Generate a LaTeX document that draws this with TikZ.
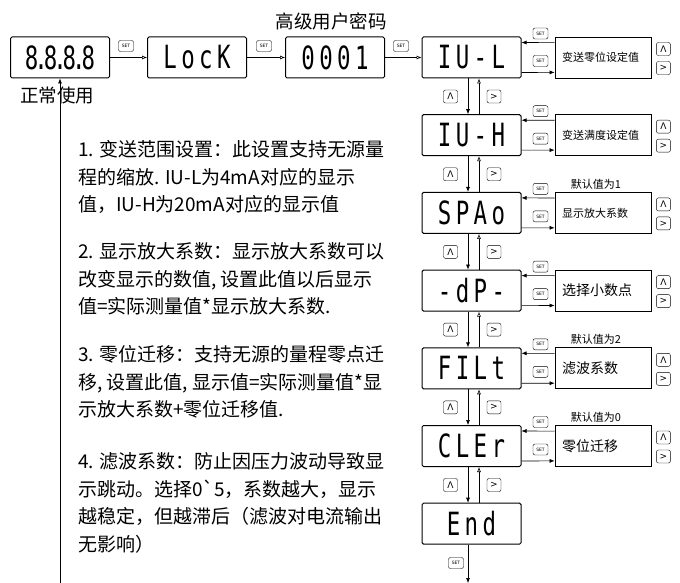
\documentclass[tikz,border=0pt]{standalone}
\usepackage{fontspec}
\usepackage{graphicx}
\usetikzlibrary{arrows.meta}
\newfontfamily\cjk{Noto Sans CJK SC}
\newfontfamily\lcdfont[LetterSpace=20]{DejaVu Sans Mono}
\newfontfamily\keyfont{DejaVu Sans}
\newcommand{\lcd}[1]{\scalebox{0.7}[1]{\lcdfont\fontsize{32}{32}\selectfont #1}}
\begin{document}
\begin{tikzpicture}[x=1pt,y=-1pt,
				disp/.style={draw,line width=1pt,rounded corners=1.5pt,minimum width=99pt,minimum height=41pt,inner sep=0pt},
				side/.style={draw,line width=0.8pt,minimum height=41pt,inner xsep=7pt,text width=82pt,align=left,font=\cjk\fontsize{11}{11}\selectfont},
				keyset/.style={draw,rounded corners=2pt,minimum width=15pt,minimum height=11pt,inner sep=0pt,font=\keyfont\fontsize{4.5}{4.5}\selectfont},
				keybtn/.style={draw,rounded corners=2pt,minimum width=14pt,minimum height=13pt,inner sep=0pt,font=\keyfont\fontsize{9}{9}\selectfont},
				para/.style={font=\cjk\fontsize{19}{27.5}\selectfont,align=left,anchor=north west,inner sep=0pt},
				lbl/.style={inner sep=0pt,font=\cjk\fontsize{18.5}{18.5}\selectfont},
				arr/.style={line width=0.6pt,-{Latex[length=5pt,width=4pt]}},
				oarr/.style={line width=0.6pt,-{Latex[open,length=5pt,width=4pt]}}]
\useasboundingbox (0,0) rectangle (680,583);
% top row
\node[disp] (d0) at (60,57.5) {\lcd{8\kern-0.18em.\kern-0.18em8\kern-0.18em.\kern-0.18em8\kern-0.18em.\kern-0.18em8}};
\node[disp] (d1) at (197,57.5) {\lcd{LocK}};
\node[disp] (d2) at (335,57.5) {\lcd{0001}};
\node[lbl] (pw) at (331,21) {高级用户密码};
\node[lbl] (run) at (57,95) {正常使用};
\foreach \t [count=\k from 3] in {IU-L,IU-H,SPAo,-dP-,FILt,CLEr,End}
	\node[disp] (d\k) at (471.5,{57.5+(\k-3)*77.7}) {\lcd{\t}};
\draw[oarr] (d0) -- (d1);
\draw[oarr] (d1) -- (d2);
\draw[oarr] (d2) -- (d3);
\node[keyset] (k1) at (126,46) {SET};
\node[keyset] (k2) at (264,46) {SET};
\node[keyset] (k3) at (401,46) {SET};
% setting boxes
\foreach \t [count=\k from 3] in {变送零位设定值,变送满度设定值,显示放大系数,{\fontsize{14}{14}\selectfont 选择小数点},{\fontsize{14}{14}\selectfont 滤波系数},{\fontsize{14}{14}\selectfont 零位迁移}}{
	\node[side] (s\k) at (603,{57.5+(\k-3)*77.7}) {\t};
	\draw[arr] ([yshift=-6pt]s\k.north west) -- ([yshift=-6pt]d\k.north east);
	\draw[arr] ([yshift=6pt]d\k.south east) -- ([yshift=6pt]s\k.south west);
	\node[keyset] (a\k) at ([xshift=19pt,yshift=3pt]d\k.north east) {SET};
	\node[keyset] (b\k) at ([xshift=19pt,yshift=-3.5pt]d\k.east) {SET};
	\node[keybtn] (u\k) at ([xshift=12pt,yshift=8.5pt]s\k.east) {Λ};
	\node[keybtn] (r\k) at ([xshift=12pt,yshift=-10.5pt]s\k.east) {>};
}
\node[inner sep=0pt,font=\cjk\fontsize{11}{11}\selectfont] (v5) at ([xshift=-7pt,yshift=8pt]s5.north) {默认值为1};
\node[inner sep=0pt,font=\cjk\fontsize{11}{11}\selectfont] (v7) at ([xshift=-7pt,yshift=8pt]s7.north) {默认值为2};
\node[inner sep=0pt,font=\cjk\fontsize{11}{11}\selectfont] (v8) at ([xshift=-7pt,yshift=8pt]s8.north) {默认值为0};
% up and down
\foreach \k [evaluate=\k as \j using int(\k+1)] in {3,...,8}{
	\draw[arr] ([xshift=-3.5pt]d\k.south) -- ([xshift=-3.5pt]d\j.north);
	\draw[oarr] ([xshift=7.5pt]d\j.north) -- ([xshift=7.5pt]d\k.south);
	\node[keybtn] (p\k) at ([xshift=-21pt,yshift=-18pt]d\k.south) {Λ};
	\node[keybtn] (q\k) at ([xshift=22.5pt,yshift=-18pt]d\k.south) {>};
}
\coordinate (out) at (468,583);
\coordinate (back) at (60,583);
\draw[arr] ([xshift=-3.5pt]d9.south) -- (out);
\node[keyset] (k9) at (456,563) {SET};
\draw[arr] (back) -- (d0.south);
% notes
\node[para] (n1) at (78,140.5) {1. 变送范围设置：此设置支持无源量\\程的缩放. IU-L为4mA对应的显示\\值，IU-H为20mA对应的显示值};
\node[para] (n2) at (78,242.5) {2. 显示放大系数：显示放大系数可以\\改变显示的数值, 设置此值以后显示\\值=实际测量值*显示放大系数.};
\node[para] (n3) at (78,345.5) {3. 零位迁移：支持无源的量程零点迁\\移, 设置此值, 显示值=实际测量值*显\\示放大系数+零位迁移值.};
\node[para] (n4) at (78,452.5) {4. 滤波系数：防止因压力波动导致显\\示跳动。选择0\textasciigrave 5，系数越大，显示\\越稳定，但越滞后（滤波对电流输出\\无影响）};
\end{tikzpicture}
\end{document}
